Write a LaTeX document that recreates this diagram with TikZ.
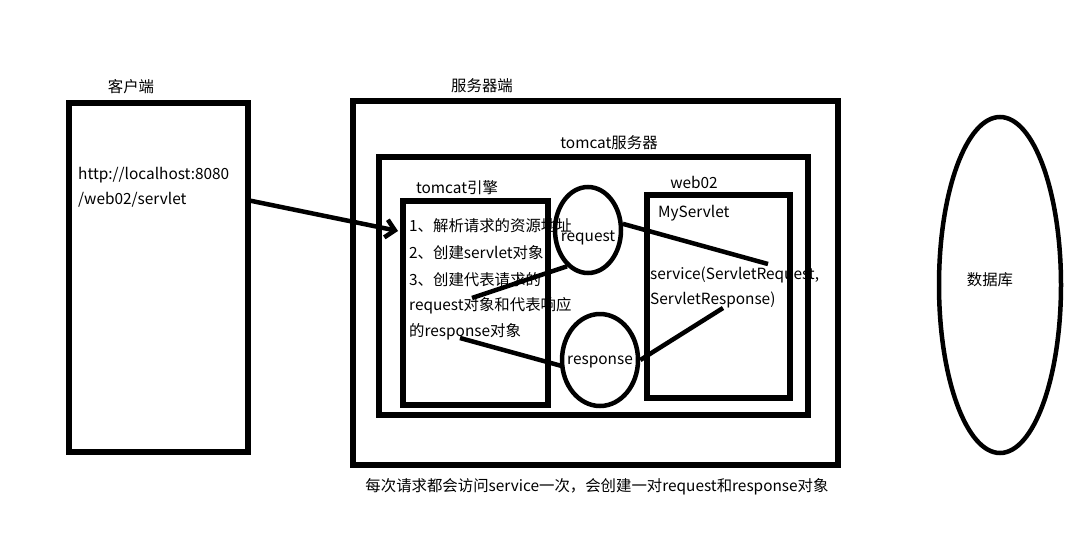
\documentclass[tikz,border=0pt]{standalone}
\usepackage{fontspec}
\setmainfont{Noto Sans CJK SC}
\usetikzlibrary{arrows.meta,positioning,shapes.geometric}

\begin{document}
\begin{tikzpicture}[
  x=1pt, y=-1pt,
  font=\fontsize{15.4}{18}\selectfont,
  box/.style={draw, line width=5.5pt, anchor=north west, inner sep=0pt},
  ell/.style={draw, ellipse, line width=4.5pt, inner sep=0pt},
  txt/.style={anchor=west, inner sep=0pt},
  line/.style={line width=4.5pt},
  arr/.style={line width=4.5pt, -{Straight Barb[length=9pt,width=18pt,line width=4.5pt]}}
]
\useasboundingbox (0,0) rectangle (1080,544);

% boxes
\node[box, minimum width=179, minimum height=349] (client) at (66,100) {};
\node[box, minimum width=485, minimum height=364] (server) at (350,98) {};
\node[box, minimum width=429, minimum height=258] (tomcat) at (376,154) {};
\node[box, minimum width=145, minimum height=204] (engine) at (400,198) {};
\node[box, minimum width=143, minimum height=203] (web) at (644,192) {};
\node[ell, minimum width=66, minimum height=86] (req) at (588,230) {};
\node[ell, minimum width=76, minimum height=92] (resp) at (600,360) {};
\node[ell, minimum width=122, minimum height=336] (db) at (1000,285) {};

% labels
\node (clientlbl) at (131,87) {客户端};
\node (serverlbl) at (482,86) {服务器端};
\node (tomcatlbl) at (609,143) {tomcat服务器};
\node (enginelbl) at (457,188) {tomcat引擎};
\node (weblbl) at (694,182) {web02};
\node (dblbl) at (990,280) {数据库};
\node (reqlbl) at (588,238) {request};
\node (resplbl) at (600,362) {response};

\node[txt] (url1) at (78,175) {http://localhost:8080};
\node[txt] (url2) at (78,200) {/web02/servlet};

\node[txt] (step1) at (409,226) {1、解析请求的资源地址};
\node[txt] (step2) at (409,253) {2、创建servlet对象};
\node[txt] (step3) at (409,280) {3、创建代表请求的};
\node[txt] (step4) at (409,306) {request对象和代表响应};
\node[txt] (step5) at (409,332) {的response对象};

\node[txt] (servlet) at (658,213) {MyServlet};
\node[txt] (svc1) at (650,275) {service(ServletRequest,};
\node[txt] (svc2) at (650,300) {ServletResponse)};

\node (note) at (597,487) {每次请求都会访问service一次，会创建一对request和response对象};

% line ends
\coordinate (urlout) at (247,200);
\coordinate (enginein) at (398,231);
\coordinate (reqin) at (472,298);
\coordinate (respin) at (460,338);
\coordinate (svcreq) at (768,264);
\coordinate (svcresp) at (723,308);

\draw[arr] (urlout) -- (enginein);
\draw[line] (req.-120) -- (reqin);
\draw[line] (req.10) -- (svcreq);
\draw[line] (resp.west) ++(2,6) -- (respin);
\draw[line] (resp.east) -- (svcresp);
\end{tikzpicture}
\end{document}
